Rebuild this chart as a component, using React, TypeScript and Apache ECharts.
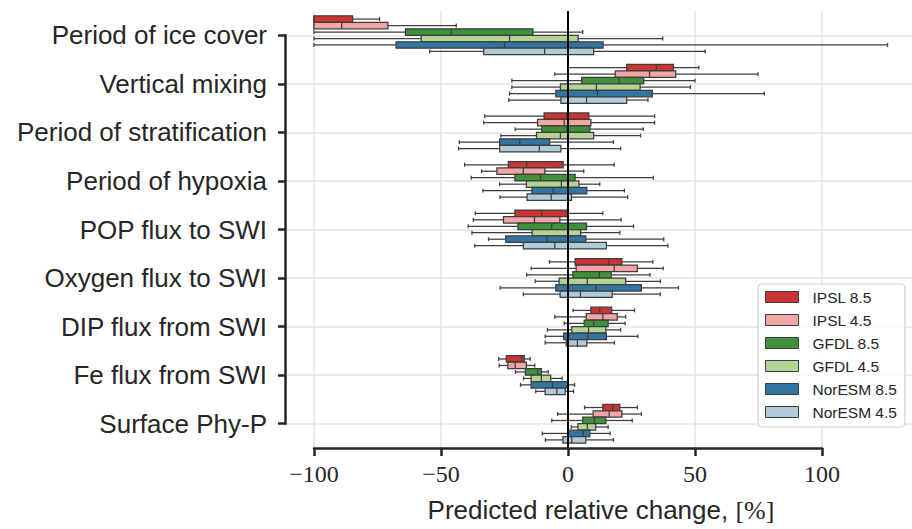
import React, { useEffect, useRef } from "react";
import * as echarts from "echarts";

const CATEGORIES = [
  "Period of ice cover",
  "Vertical mixing",
  "Period of stratification",
  "Period of hypoxia",
  "POP flux to SWI",
  "Oxygen flux to SWI",
  "DIP flux from SWI",
  "Fe flux from SWI",
  "Surface Phy-P",
];

const SERIES_NAMES = ["IPSL 8.5", "IPSL 4.5", "GFDL 8.5", "GFDL 4.5", "NorESM 8.5", "NorESM 4.5"];

// [min, Q1, median, Q3, max] per category
const IPSL_85 = [
  [-100, -100, -100, -84.8, -74.2],
  [0, 23.1, 34.8, 41.5, 51.5],
  [-32.8, -9.4, -0.5, 8.2, 34.1],
  [-40.7, -23.5, -16.3, -1.9, 18.2],
  [-36.5, -20.9, -10.4, -0.2, 13.7],
  [-7.3, 2.8, 16.1, 21.2, 33.4],
  [2.0, 9.0, 12.5, 17.2, 26.2],
  [-27.3, -24.3, -18.2, -17.2, -14.9],
  [6.5, 13.7, 17.6, 20.4, 27.3],
];
const IPSL_45 = [
  [-100, -100, -89.1, -70.9, -44.0],
  [-5.2, 18.6, 32.1, 42.4, 74.8],
  [-33.2, -12.0, -1.5, 9.0, 34.1],
  [-34.0, -28.0, -17.6, -9.1, 6.2],
  [-37.3, -25.4, -13.2, -3.2, 20.9],
  [-14.5, 3.2, 18.2, 27.3, 37.5],
  [-5.2, 7.2, 13.7, 19.4, 22.7],
  [-27.1, -23.7, -20.8, -16.4, -13.1],
  [-4.1, 9.9, 16.2, 21.2, 28.9],
];
const GFDL_85 = [
  [-100, -64.0, -46.0, -13.8, 5.8],
  [-22.1, 5.4, 20.1, 29.8, 50.0],
  [-20.8, -10.3, -0.3, 8.6, 29.6],
  [-38.1, -20.9, -10.8, 2.8, 33.6],
  [-39.3, -19.7, -6.4, 7.3, 25.8],
  [-16.3, 1.9, 12.3, 17.0, 32.3],
  [-1.5, 6.4, 10.1, 15.8, 22.5],
  [-20.7, -16.8, -11.9, -10.5, -7.8],
  [-6.4, 5.8, 10.4, 14.9, 25.3],
];
const GFDL_45 = [
  [-100, -57.8, -23.0, 4.0, 37.3],
  [-22.1, -3.0, 11.2, 28.4, 48.2],
  [-26.4, -12.4, -3.0, 10.1, 28.6],
  [-26.9, -16.4, -2.6, 4.3, 12.5],
  [-37.8, -14.1, 0.1, 5.0, 20.4],
  [-12.9, -3.5, 7.6, 22.7, 36.4],
  [-8.1, 1.5, 8.1, 14.9, 20.7],
  [-17.5, -14.5, -10.5, -6.8, -2.3],
  [1.3, 3.9, 7.6, 10.9, 15.8],
];
const NORESM_85 = [
  [-100, -67.7, -25.0, 13.8, 125.8],
  [-23.0, -4.8, 11.6, 33.2, 77.3],
  [-42.8, -26.9, -19.0, -7.2, 17.9],
  [-33.5, -14.2, -5.8, 7.4, 22.2],
  [-31.3, -24.5, -8.2, 7.0, 37.7],
  [-26.7, -4.8, 10.9, 28.9, 43.5],
  [-9.0, -1.7, 7.8, 15.1, 27.5],
  [-18.7, -14.5, -6.1, -0.3, 2.6],
  [-10.1, 0.2, 6.0, 8.6, 16.6],
];
const NORESM_45 = [
  [-54.5, -33.2, -9.2, 10.1, 54.0],
  [-23.3, -2.8, 7.3, 23.1, 31.5],
  [-43.1, -26.9, -11.3, -2.8, 20.7],
  [-26.8, -16.1, -6.6, 1.4, 23.5],
  [-36.7, -17.6, -5.2, 15.1, 39.3],
  [-17.6, -3.1, 4.9, 17.4, 36.3],
  [-9.0, -0.7, 3.7, 7.4, 18.3],
  [-12.7, -9.0, -4.4, -1.1, 2.2],
  [-8.9, -2.0, 1.5, 7.0, 17.9],
];

const SERIES_DATA = [IPSL_85, IPSL_45, GFDL_85, GFDL_45, NORESM_85, NORESM_45];
const COLORS = ["#cb3335", "#efa6a5", "#3f913b", "#b3d495", "#3275a1", "#aecbdb"];

const X_TICK_MIN = -100;
const X_TICK_MAX = 100;
const X_TICK_STEP = 50;
const X_NAME_MAIN = "Predicted relative change, ";
const X_NAME_UNIT = "[%]";

const W = 912;
const H = 529;
const EDGE = "#3d3d3d";
const DARK = "#262626";
const GRID = "#e4e4e4";

// layout
const PLOT_LEFT = 286;
const PLOT_RIGHT = 912;
const PLOT_TOP = 11;
const PLOT_BOTTOM = 448;
const TICK_LEFT = 314;
const TICK_RIGHT = 822;

export default function App() {
  const ref = useRef<HTMLDivElement>(null);

  useEffect(() => {
    if (!ref.current) return;
    const chart = echarts.init(ref.current, undefined, { renderer: "svg" });

    const pxPer = (TICK_RIGHT - TICK_LEFT) / (X_TICK_MAX - X_TICK_MIN);
    const xMinA = X_TICK_MIN - (TICK_LEFT - PLOT_LEFT) / pxPer;
    const xMaxA = X_TICK_MAX + (PLOT_RIGHT - TICK_RIGHT) / pxPer;
    const band = (PLOT_BOTTOM - PLOT_TOP) / CATEGORIES.length;
    const N = SERIES_NAMES.length;

    const makeSeries = (name: string, rows: number[][], color: string, idx: number) => ({
      type: "custom",
      name,
      xAxisIndex: 0,
      yAxisIndex: 0,
      itemStyle: { color },
      encode: { x: [1, 2, 3, 4, 5], y: 0 },
      data: rows.map((r, i) => [i, ...r]),
      renderItem: (params: any, api: any) => {
        const cat = api.value(0);
        const vals = [1, 2, 3, 4, 5].map((k) => api.coord([api.value(k), cat])[0]);
        const [xMin, xQ1, xMed, xQ3, xMax] = vals;
        const center = api.coord([0, cat])[1];
        const bw = api.size([0, 1])[1];
        const h = (bw * 0.8) / N;
        const yc = center + (idx - (N - 1) / 2) * h;
        const ls = { stroke: EDGE, lineWidth: 1.25 };
        const cap = h * 0.3;
        return {
          type: "group",
          children: [
            { type: "line", shape: { x1: xMin, y1: yc, x2: xQ1, y2: yc }, style: ls },
            { type: "line", shape: { x1: xQ3, y1: yc, x2: xMax, y2: yc }, style: ls },
            { type: "line", shape: { x1: xMin, y1: yc - cap, x2: xMin, y2: yc + cap }, style: ls },
            { type: "line", shape: { x1: xMax, y1: yc - cap, x2: xMax, y2: yc + cap }, style: ls },
            {
              type: "rect",
              shape: { x: xQ1, y: yc - h / 2, width: xQ3 - xQ1, height: h },
              style: { fill: color, stroke: EDGE, lineWidth: 1.25 },
            },
            { type: "line", shape: { x1: xMed, y1: yc - h / 2, x2: xMed, y2: yc + h / 2 }, style: ls },
          ],
        };
      },
      z: 3,
    });

    const series: any[] = SERIES_NAMES.map((n, i) => makeSeries(n, SERIES_DATA[i], COLORS[i], i));
    series.push({
      type: "line",
      name: "zero",
      xAxisIndex: 0,
      yAxisIndex: 0,
      data: [],
      z: 5,
      markLine: {
        silent: true,
        symbol: "none",
        label: { show: false },
        lineStyle: { color: "#000000", width: 2, type: "solid" },
        data: [{ xAxis: 0 }],
      },
    });

    const option: any = {
      animation: false,
      backgroundColor: "#ffffff",
      grid: [
        { left: PLOT_LEFT, right: W - PLOT_RIGHT, top: PLOT_TOP, bottom: H - PLOT_BOTTOM },
        { left: TICK_LEFT, right: W - TICK_RIGHT, top: PLOT_TOP, bottom: H - PLOT_BOTTOM },
        { left: PLOT_LEFT - 1, right: W - PLOT_RIGHT, top: PLOT_TOP + band / 2, bottom: H - PLOT_BOTTOM + band / 2 },
      ],
      xAxis: [
        {
          gridIndex: 0,
          type: "value",
          min: xMinA,
          max: xMaxA,
          axisLine: { show: false },
          axisTick: { show: false },
          axisLabel: { show: false },
          splitLine: { show: false },
          name: "{a|" + X_NAME_MAIN + "}{b|" + X_NAME_UNIT + "}",
          nameLocation: "middle",
          nameGap: 49,
          nameTextStyle: {
            padding: [0, 0, 0, 4],
            rich: {
              a: { fontFamily: "Liberation Sans", fontSize: 26, color: DARK },
              b: { fontFamily: "Liberation Serif", fontSize: 26, color: DARK },
            },
          },
        },
        {
          gridIndex: 1,
          type: "value",
          min: X_TICK_MIN,
          max: X_TICK_MAX,
          interval: X_TICK_STEP,
          axisLine: { show: true, lineStyle: { color: DARK, width: 2.5 } },
          axisTick: { show: true, length: 8, lineStyle: { color: DARK, width: 2.5 } },
          splitLine: { show: true, lineStyle: { color: GRID, width: 1.5 } },
          axisLabel: {
            margin: 14,
            fontFamily: "Liberation Serif",
            fontSize: 24,
            color: DARK,
            formatter: (v: number) => (v < 0 ? "\u2212" + Math.abs(v) : String(v)),
          },
        },
        { gridIndex: 2, type: "value", min: 0, max: 1, show: false },
      ],
      yAxis: [
        { gridIndex: 0, type: "category", data: CATEGORIES, inverse: true, show: false },
        { gridIndex: 1, type: "value", min: 0, max: 1, show: false },
        {
          gridIndex: 2,
          type: "category",
          data: CATEGORIES,
          inverse: true,
          boundaryGap: false,
          axisLine: { show: true, lineStyle: { color: DARK, width: 2.5 } },
          axisTick: { show: true, length: 7, lineStyle: { color: DARK, width: 2.5 } },
          splitLine: { show: true, lineStyle: { color: GRID, width: 1.5 } },
          axisLabel: {
            margin: 18,
            fontFamily: "Liberation Sans",
            fontSize: 26,
            color: DARK,
            interval: 0,
          },
        },
      ],
      legend: {
        data: SERIES_NAMES.map((n, i) => ({
          name: n,
          icon: "rect",
          itemStyle: { color: COLORS[i], borderColor: EDGE, borderWidth: 1 },
        })),
        orient: "vertical",
        left: 758,
        top: 284,
        itemWidth: 33,
        itemHeight: 11,
        itemGap: 7,
        padding: [5, 8, 7, 7],
        backgroundColor: "rgba(255,255,255,0.85)",
        borderColor: "#d0d0d0",
        borderWidth: 1.2,
        borderRadius: 4,
        textStyle: {
          fontFamily: "Liberation Sans",
          fontSize: 15.5,
          color: DARK,
          lineHeight: 16,
          padding: [0, 0, 0, 9],
        },
        selectedMode: false,
      },
      series,
    };

    chart.setOption(option);
    return () => chart.dispose();
  }, []);

  return (
    <div
      ref={ref}
      style={{ position: "absolute", left: 0, top: 0, width: W, height: H, overflow: "hidden" }}
    />
  );
}
